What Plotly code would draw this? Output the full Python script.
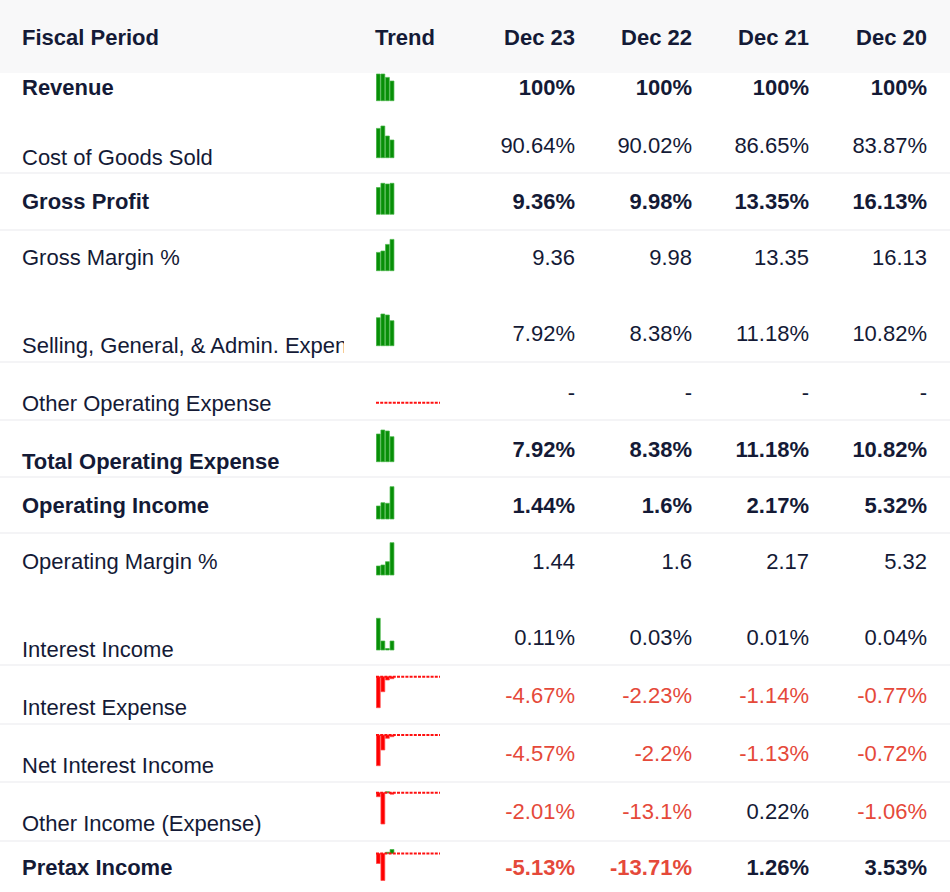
import plotly.graph_objects as go

# ---------------- data ----------------
periods = ["Dec 23", "Dec 22", "Dec 21", "Dec 20"]
row_labels = ["Revenue", "Cost of Goods Sold", "Gross Profit", "Gross Margin %",
              "Selling, General, & Admin. Expenses", "Other Operating Expense",
              "Total Operating Expense", "Operating Income", "Operating Margin %",
              "Interest Income", "Interest Expense", "Net Interest Income",
              "Other Income (Expense)", "Pretax Income"]
row_bold = [True, False, True, False, False, False, True, True, False,
            False, False, False, False, True]
row_unit = ["%", "%", "%", "", "%", "%", "%", "%", "", "%", "%", "%", "%", "%"]

dec23 = [100, 90.64, 9.36, 9.36, 7.92, None, 7.92, 1.44, 1.44, 0.11, -4.67, -4.57, -2.01, -5.13]
dec22 = [100, 90.02, 9.98, 9.98, 8.38, None, 8.38, 1.6, 1.6, 0.03, -2.23, -2.2, -13.1, -13.71]
dec21 = [100, 86.65, 13.35, 13.35, 11.18, None, 11.18, 2.17, 2.17, 0.01, -1.14, -1.13, 0.22, 1.26]
dec20 = [100, 83.87, 16.13, 16.13, 10.82, None, 10.82, 5.32, 5.32, 0.04, -0.77, -0.72, -1.06, 3.53]
period_values = [dec23, dec22, dec21, dec20]

# sparkline trend values (relative bar heights, Dec 23 -> Dec 20)
trend_revenue = [26.7, 26.7, 23.3, 19.7]
trend_cogs = [29.3, 31.7, 21.7, 17.7]
trend_gross_profit = [26.7, 31.0, 30.3, 31.0]
trend_gross_margin = [18.3, 19.7, 26.3, 31.3]
trend_sga = [28.0, 31.7, 30.7, 25.0]
trend_other_opex = [None, None, None, None]
trend_total_opex = [27.7, 31.7, 30.7, 25.0]
trend_op_income = [13.0, 16.3, 15.7, 32.3]
trend_op_margin = [9.0, 10.0, 13.3, 32.3]
trend_int_income = [31.7, 9.0, 1.5, 9.0]
trend_int_expense = [-31.0, -15.0, -3.3, -2.0]
trend_net_int = [-30.7, -15.0, -3.3, -1.7]
trend_other_income = [-4.0, -31.3, 1.0, -1.5]
trend_pretax = [-10.0, -27.0, 1.2, 4.0]
trends = [trend_revenue, trend_cogs, trend_gross_profit, trend_gross_margin, trend_sga,
          trend_other_opex, trend_total_opex, trend_op_income, trend_op_margin,
          trend_int_income, trend_int_expense, trend_net_int, trend_other_income, trend_pretax]

# ---------------- layout constants (pixels) ----------------
W, H = 950, 892
FS = 22
FONT = "Liberation Sans, Arial, Helvetica, sans-serif"
DARK = "#141a36"
NEG = "#e5493a"
label_y = [87, 157, 201, 257, 345, 403, 461, 505, 561, 649, 707, 765, 823, 867]
value_y = [87, 145, 201, 257, 333, 392, 449, 505, 561, 637, 695, 753, 811, 867]
spark_base = [100.7, 157.7, 214.3, 270.7, 345.7, 402.7, 461.7, 519, 575, 650,
              676.7, 735, 792.7, 853.5]
separators = [173, 230, 362, 420, 477, 533, 665, 724, 782, 841]
col_right = [575, 692, 809, 927]
header_y = 37
label_x = 22
trend_x0, trend_x1 = 376, 440
label_clip = 344
SP_HALF = 36


def ty(c):
    # cap-centre pixel -> text anchor y
    return c + 0.108 * FS


def fmt(v, unit):
    if v is None:
        return "-"
    return f"{v:g}{unit}"


fig = go.Figure()

# header labels on main axis
fig.add_trace(go.Scatter(
    x=[label_x, trend_x0 - 1], y=[ty(header_y)] * 2, mode="text",
    text=["<b>Fiscal Period</b>", "<b>Trend</b>"], textposition="middle right",
    textfont=dict(family=FONT, size=FS, color=DARK), hoverinfo="skip",
    showlegend=False, xaxis="x", yaxis="y"))
fig.add_trace(go.Scatter(
    x=col_right, y=[ty(header_y)] * 4, mode="text",
    text=[f"<b>{p}</b>" for p in periods], textposition="middle left",
    textfont=dict(family=FONT, size=FS, color=DARK), hoverinfo="skip",
    showlegend=False, xaxis="x", yaxis="y"))

# row labels (clipped column)
fig.add_trace(go.Scatter(
    x=[label_x] * len(row_labels), y=[ty(c) for c in label_y], mode="text",
    text=[f"<b>{l}</b>" if b else l for l, b in zip(row_labels, row_bold)],
    textposition="middle right", cliponaxis=True,
    textfont=dict(family=FONT, size=FS, color=DARK), hoverinfo="skip",
    showlegend=False, xaxis="x2", yaxis="y2"))

# value columns
for ci, vals in enumerate(period_values):
    txt, cols = [], []
    for v, u, b in zip(vals, row_unit, row_bold):
        s = fmt(v, u)
        txt.append(f"<b>{s}</b>" if b else s)
        cols.append(NEG if (v is not None and v < 0) else DARK)
    fig.add_trace(go.Scatter(
        x=[col_right[ci]] * len(vals), y=[ty(c) for c in value_y], mode="text",
        text=txt, textposition="middle left",
        textfont=dict(family=FONT, size=FS, color=cols), hoverinfo="skip",
        showlegend=False, xaxis="x", yaxis="y"))

layout_axes = {}
hidden = dict(visible=False, showgrid=False, zeroline=False, fixedrange=True)
layout_axes["xaxis"] = dict(hidden, domain=[0, 1], range=[0, W])
layout_axes["yaxis"] = dict(hidden, domain=[0, 1], range=[H, 0])
layout_axes["xaxis2"] = dict(hidden, domain=[0, label_clip / W], range=[0, label_clip])
layout_axes["yaxis2"] = dict(hidden, domain=[0, 1], range=[H, 0])

# sparklines
for i, (tr, base) in enumerate(zip(trends, spark_base)):
    n = i + 3
    xa, ya = f"x{n}", f"y{n}"
    layout_axes[f"xaxis{n}"] = dict(hidden, domain=[trend_x0 / W, trend_x1 / W],
                                    range=[-0.5, 13.5], anchor=ya)
    layout_axes[f"yaxis{n}"] = dict(hidden, domain=[1 - (base + SP_HALF) / H, 1 - (base - SP_HALF) / H],
                                    range=[-SP_HALF, SP_HALF], anchor=xa)
    if any(v is None or v < 0 for v in tr):
        fig.add_trace(go.Scatter(
            x=[-0.5, 13.5], y=[0, 0], mode="lines",
            line=dict(color="#ff1010", width=2, dash="3px,1.2px"),
            hoverinfo="skip", showlegend=False, xaxis=xa, yaxis=ya))
    xs = [k for k, v in enumerate(tr) if v is not None]
    ys = [v for v in tr if v is not None]
    if xs:
        fig.add_trace(go.Bar(
            x=xs, y=ys,
            marker=dict(color=["#078f07" if v >= 0 else "#ff0000" for v in ys],
                        line=dict(color=["#45b545" if v >= 0 else "#ff4a4a" for v in ys], width=0.7)),
            width=0.85, hoverinfo="skip", showlegend=False, xaxis=xa, yaxis=ya))

shapes = [dict(type="rect", xref="x", yref="y", x0=0, x1=W, y0=0, y1=73,
               fillcolor="#f8f8f9", line=dict(width=0), layer="below")]
for sy in separators:
    shapes.append(dict(type="line", xref="x", yref="y", x0=0, x1=W, y0=sy, y1=sy,
                       line=dict(color="#f1f1f3", width=1.5), layer="below"))

fig.update_layout(
    width=W, height=H, margin=dict(l=0, r=0, t=0, b=0),
    paper_bgcolor="white", plot_bgcolor="rgba(0,0,0,0)",
    shapes=shapes, bargap=0.15, showlegend=False,
    font=dict(family=FONT, size=FS, color=DARK),
    **layout_axes)

fig.write_html("out.html", config={"displayModeBar": False, "staticPlot": True},
               post_script="document.body.style.margin='0';document.body.style.padding='0';document.body.style.overflow='hidden';")
